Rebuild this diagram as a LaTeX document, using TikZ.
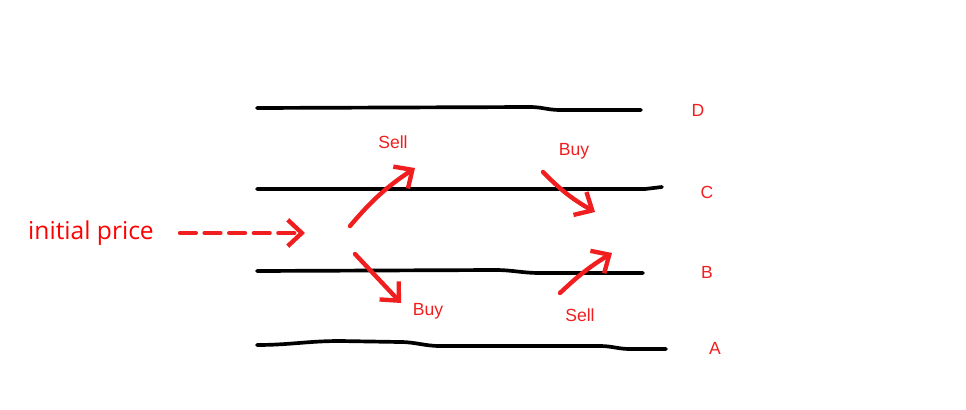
\documentclass[tikz,border=0pt]{standalone}
\usepackage{fontspec}
\setmainfont{Liberation Sans}
\newfontfamily\pricefont{Open Sans}
\usetikzlibrary{arrows.meta}
\definecolor{pen}{RGB}{240,30,30}
\tikzset{
  level/.style={line width=2.1pt, black, line cap=round},
  move/.style={line width=2.5pt, pen, line cap=round, -{Straight Barb[length=8pt,width=15pt,line width=2.5pt]}},
  tag/.style={text=pen, font=\fontsize{10}{12}\selectfont},
}
\begin{document}
\begin{tikzpicture}[x=0.02cm,y=-0.02cm]
    \useasboundingbox (0,0) rectangle (966,409);

% price levels
    \draw[level] (257,108) -- (530,107) to[out=0,in=180] (560,110) -- (641,110);
    \draw[level] (257,189) -- (645,189) -- (662,187);
    \draw[level] (257,271) -- (495,270) to[out=0,in=180] (540,273) -- (643,273);
    \draw[level] (257,345) to[out=0,in=180] (340,341) -- (400,342) to[out=0,in=180] (440,346) -- (600,346) to[out=0,in=180] (630,349) -- (666,349);

    \node[tag] (lD) at (698,110) {D};
    \node[tag] (lC) at (707,192) {C};
    \node[tag] (lB) at (707,272) {B};
    \node[tag] (lA) at (715,348) {A};

% start
    \node[text=red, font=\pricefont\fontsize{14}{16}\selectfont] (init) at (91,233) {initial price};
    \coordinate (start) at (305,233);
    \draw[move, dash pattern=on 9pt off 5pt] (init.east) ++(20,0) coordinate (dstart) -- (start);

% first moves
    \coordinate (s1) at (350,226);
    \coordinate (e1) at (415,168);
    \draw[move] (s1) to[bend left=8] (e1);
    \node[tag] (sell1) at (393,142) {Sell};

    \coordinate (s2) at (355,254);
    \coordinate (e2) at (401,303);
    \draw[move] (s2) -- (e2);
    \node[tag] (buy1) at (428,311) {Buy};

% second moves
    \coordinate (s3) at (543,172);
    \coordinate (e3) at (595,212);
    \draw[move] (s3) to[bend right=8] (e3);
    \node[tag] (buy2) at (574,151) {Buy};

    \coordinate (s4) at (560,293);
    \coordinate (e4) at (612,253);
    \draw[move] (s4) to[bend left=6] (e4);
    \node[tag] (sell2) at (580,315) {Sell};

\end{tikzpicture}
\end{document}
